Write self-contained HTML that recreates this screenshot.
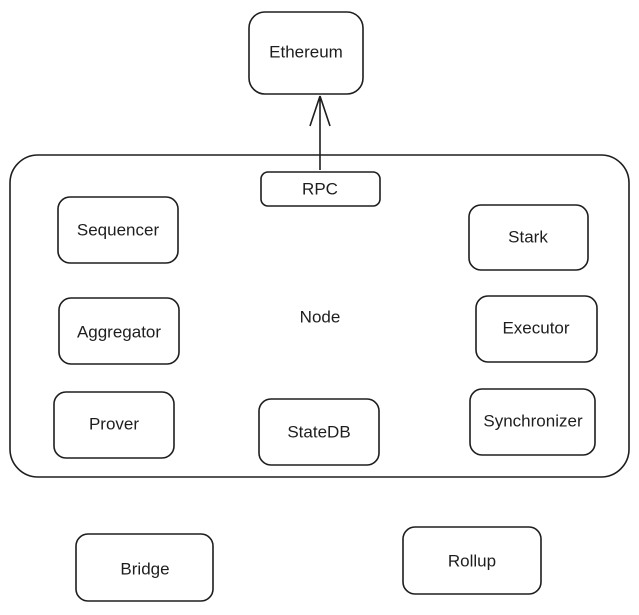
<!DOCTYPE html>
<html><head><meta charset="utf-8"><style>
html,body{margin:0;padding:0;background:#fff;}
svg{display:block;}
text{font-family:"Liberation Sans",sans-serif;font-size:17px;fill:#1e1e1e;text-anchor:middle;dominant-baseline:middle;}
rect{fill:none;stroke:#1e1e1e;stroke-width:1.6;}
</style></head><body>
<svg width="639" height="615" viewBox="0 0 639 615" xmlns="http://www.w3.org/2000/svg">
<rect x="0" y="0" width="639" height="615" style="fill:#fff;stroke:none"/>
<rect x="249" y="12" width="114" height="82" rx="16"/>
<text x="306" y="53">Ethereum</text>
<path d="M320 170 L320 96 M320 96 L310 126 M320 96 L330 126" fill="none" stroke="#1e1e1e" stroke-width="1.6"/>
<rect x="10" y="155" width="619" height="322" rx="28"/>
<rect x="261" y="172" width="119" height="34" rx="7" style="fill:#fff"/>
<text x="320" y="190">RPC</text>
<rect x="58" y="197" width="120" height="66" rx="12"/>
<text x="118" y="231">Sequencer</text>
<rect x="469" y="205" width="119" height="65" rx="12"/>
<text x="528" y="238">Stark</text>
<rect x="59" y="298" width="120" height="66" rx="12"/>
<text x="119" y="333">Aggregator</text>
<text x="320" y="318">Node</text>
<rect x="476" y="296" width="121" height="66" rx="12"/>
<text x="536" y="329">Executor</text>
<rect x="54" y="392" width="120" height="66" rx="12"/>
<text x="114" y="425">Prover</text>
<rect x="259" y="399" width="120" height="66" rx="12"/>
<text x="319" y="433">StateDB</text>
<rect x="470" y="389" width="125" height="66" rx="12"/>
<text x="533" y="422">Synchronizer</text>
<rect x="76" y="534" width="137" height="67" rx="12"/>
<text x="145" y="570">Bridge</text>
<rect x="403" y="527" width="138" height="67" rx="12"/>
<text x="472" y="562">Rollup</text>
</svg>
</body></html>
